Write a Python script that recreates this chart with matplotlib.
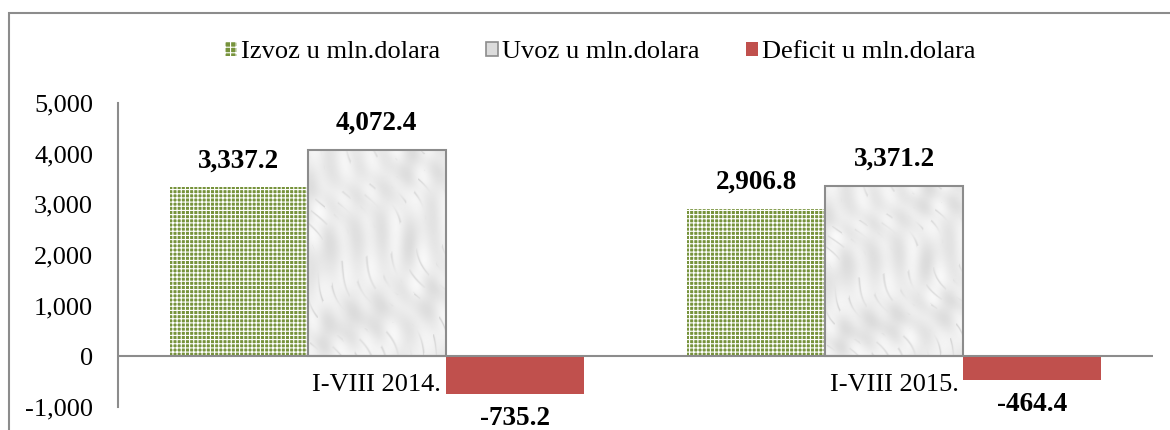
import numpy as np
import matplotlib
matplotlib.use('Agg')
import matplotlib.pyplot as plt
from matplotlib.patches import Patch, Rectangle

categories = ['I-VIII 2014.', 'I-VIII 2015.']
izvoz = [3337.2, 2906.8]
uvoz = [4072.4, 3371.2]
deficit = [-735.2, -464.4]
series_names = ['Izvoz u mln.dolara', 'Uvoz u mln.dolara', 'Deficit u mln.dolara']
yticks = [-1000, 0, 1000, 2000, 3000, 4000, 5000]

green = '#77933C'
red = '#C0504D'
edge_gray = '#8c8c8c'

plt.rcParams['font.family'] = ['Liberation Serif', 'DejaVu Serif']
plt.rcParams['font.size'] = 19
plt.rcParams['hatch.linewidth'] = 0.8

fig = plt.figure(figsize=(11.7, 4.3), dpi=100)
ax = fig.add_axes([0.1009, 0.0535, 0.8846, 0.707])

x = np.arange(len(categories))
w = 0.2667

# izvoz - green with white dot grid
ax.bar(x - w, izvoz, w, color=green, linewidth=0, zorder=2)
ax.bar(x - w, izvoz, w, facecolor='none', edgecolor='white', hatch='++++',
       linewidth=0, zorder=3)

# uvoz - marble look (smooth blotches + a few darker veins)
yy, xx = np.mgrid[0:200, 0:140].astype(float)
n1 = np.sin(0.13 * xx + 0.05 * yy) * np.cos(0.04 * yy - 0.11 * xx + 1.3)
n2 = np.sin(0.21 * xx - 0.12 * yy + 2.0 * np.sin(0.05 * yy + 0.02 * xx))
n3 = np.cos(0.07 * yy + 0.09 * xx + 1.5 * np.sin(0.06 * xx))
tex = 0.92 + 0.03 * n1 + 0.015 * n2 + 0.02 * n3
tex -= 0.12 * np.exp(-n2 ** 2 * 25) * (n1 > 0.1) * (0.5 + 0.5 * n3)
uv_bars = ax.bar(x, uvoz, w, facecolor='none', edgecolor=edge_gray,
                 linewidth=1.5, zorder=4)
for b in uv_bars:
    im = ax.imshow(tex, cmap='gray', vmin=0, vmax=1, aspect='auto',
                   extent=[b.get_x(), b.get_x() + b.get_width(), 0, b.get_height()],
                   zorder=2, interpolation='bilinear')
    im.set_clip_path(b)

# deficit - red
ax.bar(x + w, deficit, w, color=red, linewidth=0, zorder=2)

# value labels
for i in range(len(categories)):
    for xi, v in [(x[i] - w, izvoz[i]), (x[i], uvoz[i]), (x[i] + w, deficit[i])]:
        off = 19 if v > 0 else -18
        ax.annotate(f'{v:,.1f}', (xi, v), xytext=(0, off), textcoords='offset points',
                    ha='center', va='center', fontweight='bold', fontsize=19.5,
                    annotation_clip=False)
    ax.annotate(categories[i], (x[i], 0), xytext=(0, -21), textcoords='offset points',
                ha='center', va='center', annotation_clip=False)

ax.axhline(0, color=edge_gray, linewidth=1.5, zorder=5)
ax.set_xlim(-0.5, 1.5)
ax.set_ylim(-1000, 5000)
ax.set_yticks(yticks)
ax.set_yticklabels([f'{t:,}' for t in yticks])
ax.set_xticks([])
ax.tick_params(axis='y', length=0, pad=18)
for s in ['top', 'right', 'bottom']:
    ax.spines[s].set_visible(False)
ax.spines['left'].set_color(edge_gray)
ax.spines['left'].set_linewidth(1.5)

handles = [Patch(facecolor=green, edgecolor='white', hatch='+++', linewidth=0),
           Patch(facecolor='#dcdcdc', edgecolor=edge_gray, linewidth=1.2),
           Patch(facecolor=red, linewidth=0)]
fig.legend(handles, series_names, loc='center', bbox_to_anchor=(0.513, 0.878),
           ncol=3, frameon=False, handlelength=0.45, handleheight=0.45,
           handletextpad=0.15, columnspacing=1.75, borderpad=0)

fig.patches.append(Rectangle((9 / 1170, -0.1), 1.1, 1.1 - 13 / 430,
                             transform=fig.transFigure, fill=False,
                             edgecolor=edge_gray, linewidth=1.5, clip_on=False))

fig.savefig('out.png', dpi=100)
